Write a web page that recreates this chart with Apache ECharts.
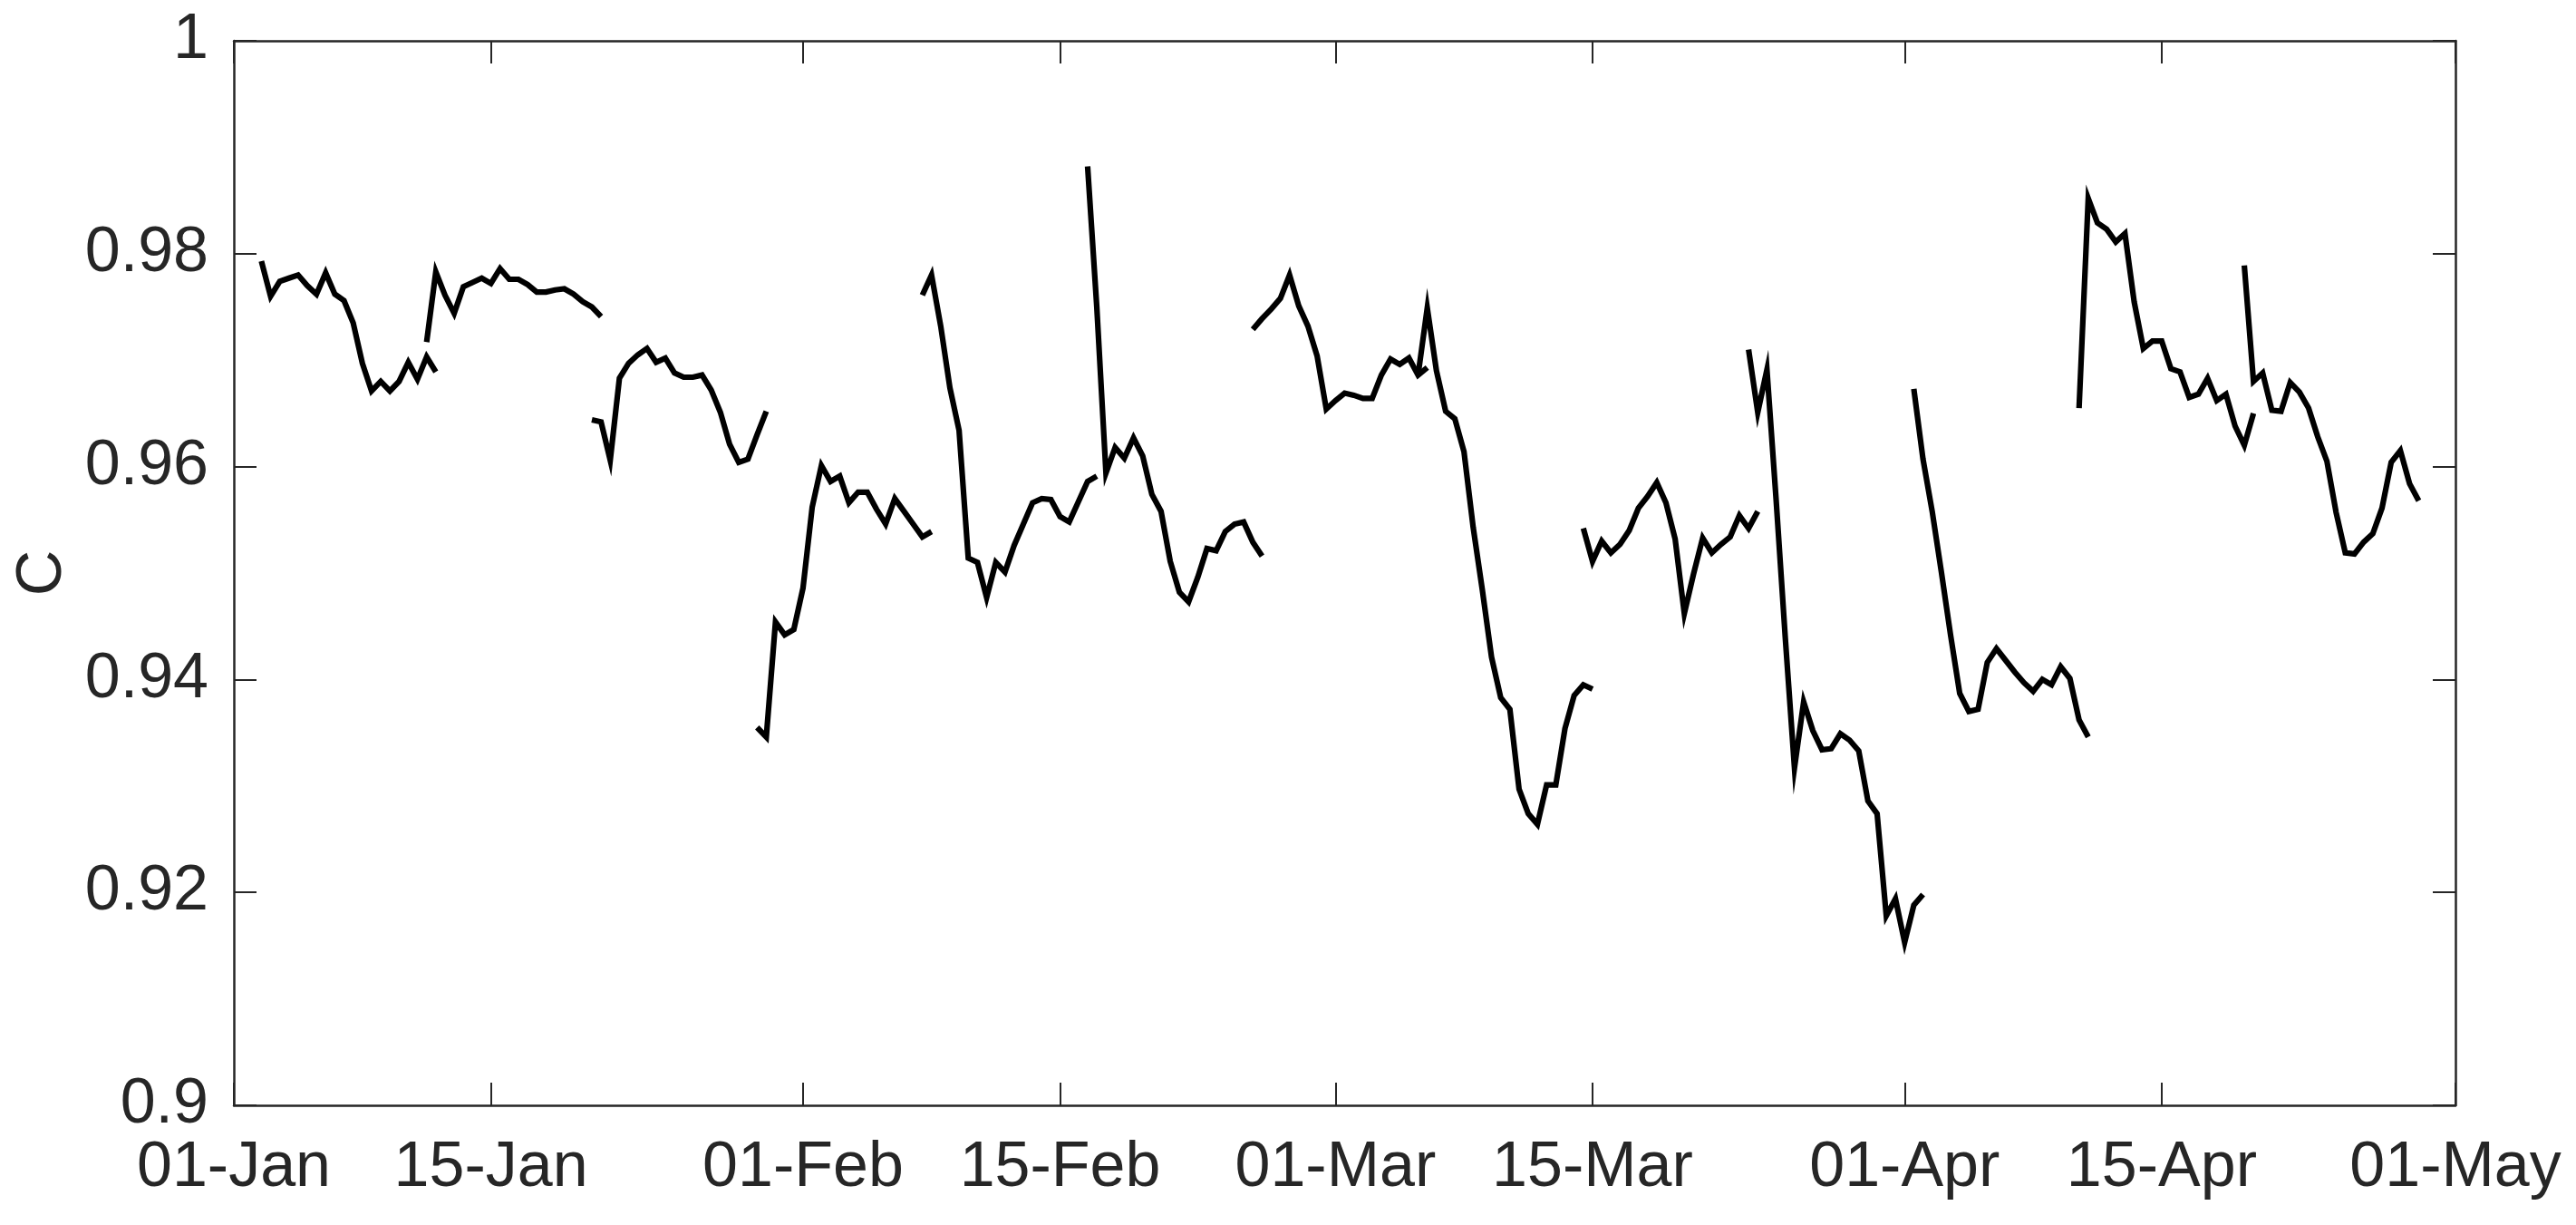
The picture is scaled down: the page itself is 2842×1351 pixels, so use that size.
<!DOCTYPE html>
<html>
<head>
<meta charset="utf-8">
<script src="https://cdn.jsdelivr.net/npm/echarts@6/dist/echarts.min.js"></script>
<style>
html,body{margin:0;padding:0;background:#fff;}
#chart{width:2842px;height:1351px;}
</style>
</head>
<body>
<div id="chart"></div>
<script>
// x axis: days since 01-Jan (leap year)
const xTickDays = [0, 14, 31, 45, 60, 74, 91, 105, 121];
const xTickLabels = ['01-Jan', '15-Jan', '01-Feb', '15-Feb', '01-Mar', '15-Mar', '01-Apr', '15-Apr', '01-May'];
const yTickLabels = ['0.9', '0.92', '0.94', '0.96', '0.98', '1'];
const yAxisName = 'C';

// each run: start day (days since 01-Jan) and 12-hourly values
const runStartDays = [1.5, 10.5, 19.5, 28.5, 37.5, 46.5, 55.5, 64.5, 73.5, 82.5, 91.5, 100.5, 109.5];
const STEP_DAYS = 0.5;

const run01 = [0.9793,0.9760,0.9774,0.9777,0.9780,0.9770,0.9762,0.9782,0.9762,0.9756,0.9735,0.9697,0.9671,0.9680,0.9671,0.9680,0.9698,0.9682,0.9703,0.9689];
const run02 = [0.9717,0.9783,0.9761,0.9744,0.9769,0.9773,0.9777,0.9772,0.9786,0.9776,0.9776,0.9771,0.9764,0.9764,0.9766,0.9767,0.9762,0.9755,0.9750,0.9741];
const run03 = [0.9644,0.9642,0.9606,0.9683,0.9697,0.9705,0.9711,0.9698,0.9702,0.9688,0.9684,0.9684,0.9686,0.9672,0.9651,0.9621,0.9604,0.9607,0.9630,0.9652];
const run04 = [0.9355,0.9346,0.9454,0.9442,0.9447,0.9486,0.9562,0.9601,0.9586,0.9591,0.9566,0.9576,0.9576,0.9560,0.9546,0.9570,0.9558,0.9546,0.9534,0.9539];
const run05 = [0.9761,0.9780,0.9732,0.9674,0.9634,0.9514,0.9510,0.9477,0.9510,0.9501,0.9526,0.9546,0.9566,0.9570,0.9569,0.9553,0.9548,0.9567,0.9586,0.9591];
const run06 = [0.9882,0.9750,0.9594,0.9618,0.9608,0.9627,0.9610,0.9574,0.9558,0.9511,0.9482,0.9473,0.9496,0.9523,0.9521,0.9539,0.9546,0.9548,0.9529,0.9516];
const run07 = [0.9729,0.9739,0.9748,0.9758,0.9780,0.9751,0.9732,0.9704,0.9654,0.9662,0.9669,0.9667,0.9664,0.9664,0.9686,0.9701,0.9696,0.9702,0.9686,0.9693];
const run08 = [0.9686,0.9749,0.9690,0.9652,0.9645,0.9614,0.9543,0.9484,0.9421,0.9383,0.9372,0.9297,0.9274,0.9264,0.9301,0.9301,0.9354,0.9385,0.9395,0.9391];
const run09 = [0.9542,0.9511,0.9530,0.9519,0.9527,0.9540,0.9561,0.9572,0.9585,0.9566,0.9532,0.9462,0.9499,0.9533,0.9519,0.9527,0.9534,0.9554,0.9542,0.9558];
const run10 = [0.9710,0.9651,0.9691,0.9569,0.9439,0.9317,0.9379,0.9352,0.9334,0.9335,0.9349,0.9343,0.9333,0.9286,0.9274,0.9178,0.9194,0.9153,0.9188,0.9198];
const run11 = [0.9673,0.9607,0.9558,0.9501,0.9442,0.9387,0.9370,0.9372,0.9416,0.9429,0.9418,0.9407,0.9397,0.9389,0.9400,0.9395,0.9412,0.9401,0.9362,0.9346];
const run12 = [0.9655,0.9852,0.9829,0.9823,0.9811,0.9819,0.9755,0.9711,0.9718,0.9718,0.9692,0.9689,0.9665,0.9668,0.9683,0.9662,0.9668,0.9638,0.9620,0.9650];
const run13 = [0.9789,0.9680,0.9688,0.9653,0.9652,0.9679,0.9670,0.9655,0.9628,0.9605,0.9557,0.9519,0.9518,0.9529,0.9537,0.9561,0.9604,0.9615,0.9584,0.9568];

const runs = [run01, run02, run03, run04, run05, run06, run07, run08, run09, run10, run11, run12, run13];

const FONT = '"Liberation Sans", Arial, Helvetica, sans-serif';
const INK = '#262626';

const chart = echarts.init(document.getElementById('chart'), null, {renderer: 'canvas'});

const series = runs.map((vals, k) => ({
  type: 'line',
  xAxisIndex: 0,
  yAxisIndex: 0,
  showSymbol: false,
  symbol: 'none',
  silent: true,
  animation: false,
  lineStyle: {color: '#000000', width: 6.2, join: 'miter'},
  data: vals.map((v, i) => [runStartDays[k] + i * STEP_DAYS, v])
}));

const commonLine = {show: true, onZero: false, lineStyle: {color: INK, width: 2.5}};
const tickStyle = {color: INK, width: 2};

chart.setOption({
  animation: false,
  backgroundColor: '#ffffff',
  grid: {left: 258, right: 133, top: 45, bottom: 132, containLabel: false, outerBoundsMode: 'none'},
  xAxis: [
    {
      type: 'value', min: 0, max: 121, position: 'bottom',
      axisLine: commonLine,
      axisTick: {show: true, inside: true, length: 25, customValues: xTickDays, lineStyle: tickStyle},
      axisLabel: {
        show: true, customValues: xTickDays, margin: 35,
        fontSize: 70, fontFamily: FONT, color: INK,
        formatter: v => { const i = xTickDays.indexOf(Math.round(v)); return i >= 0 ? xTickLabels[i] : ''; }
      },
      splitLine: {show: false}
    },
    {
      type: 'value', min: 0, max: 121, position: 'top',
      axisLine: commonLine,
      axisTick: {show: true, inside: true, length: 25, customValues: xTickDays, lineStyle: tickStyle},
      axisLabel: {show: false},
      splitLine: {show: false}
    }
  ],
  yAxis: [
    {
      type: 'value', min: 0.9, max: 1, interval: 0.02, position: 'left',
      name: yAxisName, nameLocation: 'middle', nameGap: 172, nameRotate: 90,
      nameTextStyle: {fontSize: 70, fontFamily: FONT, color: INK},
      axisLine: commonLine,
      axisTick: {show: true, inside: true, length: 25, lineStyle: tickStyle},
      axisLabel: {
        show: true, margin: 28, fontSize: 70, fontFamily: FONT, color: INK,
        formatter: v => yTickLabels[Math.round((v - 0.9) / 0.02)]
      },
      splitLine: {show: false}
    },
    {
      type: 'value', min: 0.9, max: 1, interval: 0.02, position: 'right',
      axisLine: commonLine,
      axisTick: {show: true, inside: true, length: 25, lineStyle: tickStyle},
      axisLabel: {show: false},
      splitLine: {show: false}
    }
  ],
  series: series
});
</script>
</body>
</html>
